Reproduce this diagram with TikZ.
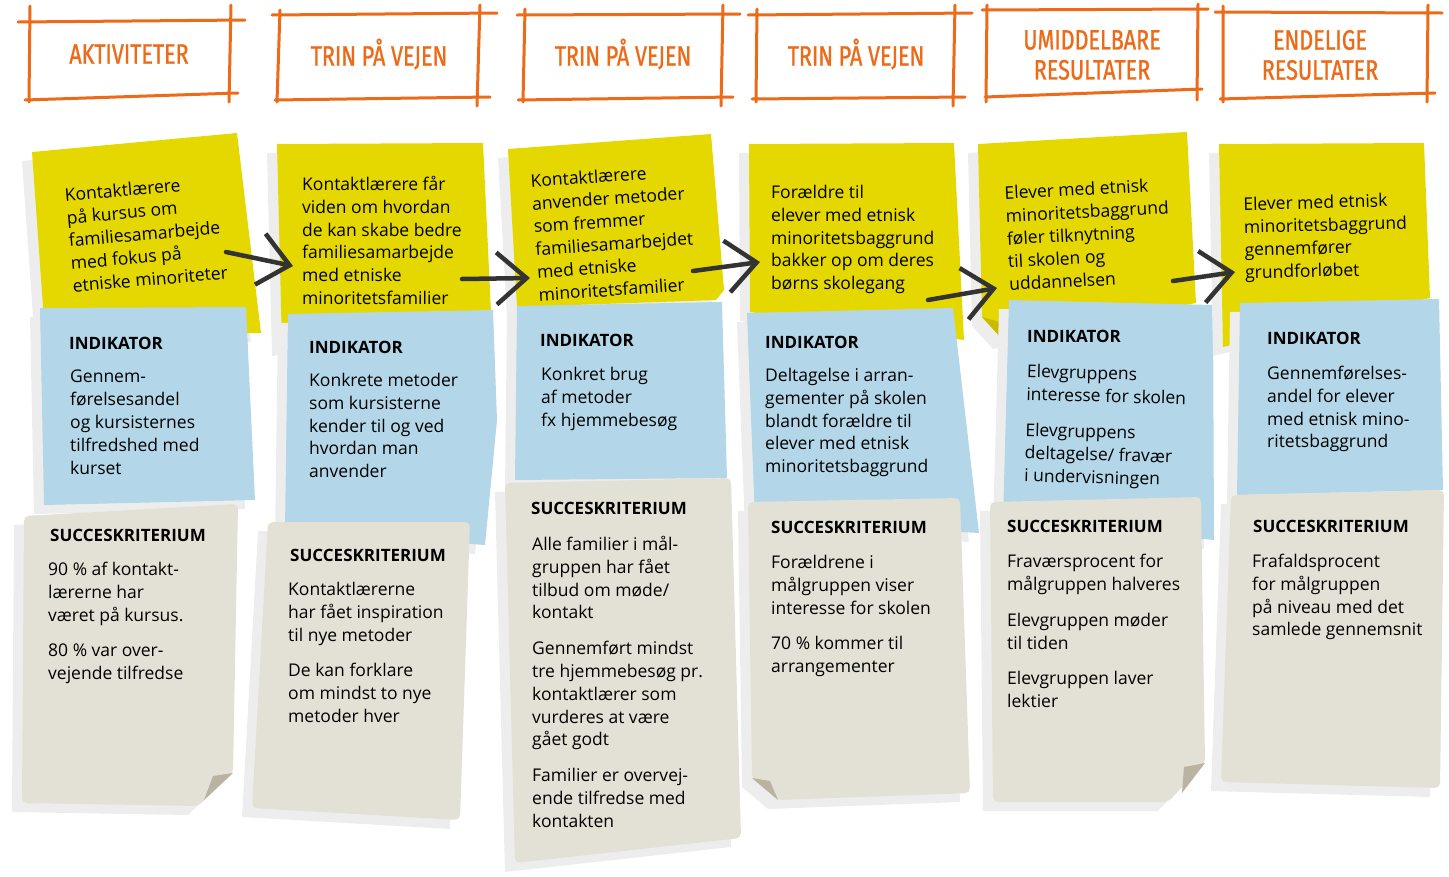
\documentclass[tikz,border=0pt]{standalone}
\usepackage{fontspec}
\setmainfont{Open Sans}
\newfontfamily\headfont{Fira Sans}[FakeStretch=0.77,FakeBold=1]
\usetikzlibrary{arrows.meta}

\definecolor{frameorange}{HTML}{EC6A18}
\definecolor{noteyellow}{HTML}{E5D800}
\definecolor{foldyellow}{HTML}{C9BC00}
\definecolor{noteblue}{HTML}{B3D7E8}
\definecolor{notebeige}{HTML}{E3E1D5}
\definecolor{foldbeige}{HTML}{BAB3A2}
\definecolor{noteshade}{HTML}{EDEDED}
\definecolor{arrowgray}{HTML}{333333}

\newcommand{\notefont}{\fontsize{17.5}{22.8}\selectfont}
\newcommand{\labelfont}{\fontsize{17}{20}\selectfont\bfseries}
\newcommand{\headsize}{\fontsize{28}{32}\selectfont}
% sticky note: shadow first, then the paper
\newcommand{\sticky}[2]{\fill[paper shadow] #2; \fill[#1] #2;}

\tikzset{
  frame line/.style={draw=frameorange, line width=3pt, line cap=round},
  head text/.style={font=\headfont\headsize, text=frameorange, align=center, inner sep=0pt},
  note text/.style={anchor=north west, align=left, inner sep=0pt, font=\notefont},
  label text/.style={anchor=west, inner sep=0pt, font=\labelfont},
  paper shadow/.style={fill=noteshade, shift={(-10,9)}},
  yellow paper/.style={fill=noteyellow},
  blue paper/.style={fill=noteblue},
  beige paper/.style={fill=notebeige, rounded corners=5pt},
  flow/.style={draw=arrowgray, line width=4.5pt, line cap=round, -{Straight Barb[length=30pt,width=52pt]}},
}

\begin{document}
\begin{tikzpicture}[x=1pt, y=-1pt]
\useasboundingbox (0,0) rectangle (1449,876);

% headers
\draw[frame line] (18,22) -- (245,20) (25,100) -- (238,93) (30,6) -- (29,102) (231,5) -- (229,102);
\node[head text] (h1) at (129,54) {AKTIVITETER};
\draw[frame line] (272,15) -- (497,13) (275,100) -- (490,97) (280,10) -- (277,102) (480,5) -- (477,106);
\node[head text] (h2) at (379,54) {TRIN PÅ VEJEN};
\draw[frame line] (517,15) -- (740,14) (518,100) -- (733,97) (525,9) -- (523,102) (723,5) -- (721,106);
\node[head text] (h3) at (623,54) {TRIN PÅ VEJEN};
\draw[frame line] (748,15) -- (972,13) (752,99) -- (965,97) (757,9) -- (756,102) (955,5) -- (953,106);
\node[head text] (h4) at (856,54) {TRIN PÅ VEJEN};
\draw[frame line] (982,10) -- (1208,9) (985,97) -- (1202,89) (987,5) -- (986,102) (1198,4) -- (1197,100);
\node[head text] (h5) at (1092,55) {UMIDDELBARE\\[-2pt]RESULTATER};
\draw[frame line] (1215,12) -- (1442,13) (1220,99) -- (1435,93) (1223,6) -- (1223,102) (1428,5) -- (1427,102);
\node[head text] (h6) at (1320,55) {ENDELIGE\\[-2pt]RESULTATER};

% column 1
\sticky{yellow paper}{(32,152) -- (237,133) -- (261,333) -- (45,335) -- cycle}
\node[note text, rotate=5] (y1) at (64,188) {Kontaktlærere\\på kursus om\\familiesamarbejde\\med fokus på\\etniske minoriteter};
\sticky{blue paper}{(40,308) -- (246,307) -- (255,500) -- (44,505) -- cycle}
\node[label text] (i1) at (69,343) {INDIKATOR};
\node[note text] (i1t) at (70,370) {Gennem-\\førelsesandel\\og kursisternes\\tilfredshed med\\kurset};
\sticky{beige paper}{(24,516) -- (238,504) -- (233,773) -- (198,806) -- (22,803) -- cycle}
\fill[foldbeige] (213,776) -- (233,773) -- (204,800) -- cycle;
\node[label text] (s1) at (50,535) {SUCCESKRITERIUM};
\node[note text] (s1t) at (48,562) {90 \% af kontakt-\\lærerne har\\været på kursus.\\[13pt]80 \% var over-\\vejende tilfredse};

% column 2
\sticky{yellow paper}{(277,144) -- (483,143) -- (491,312) -- (282,347) -- cycle}
\node[note text] (y2) at (302,176) {Kontaktlærere får\\viden om hvordan\\de kan skabe bedre\\familiesamarbejde\\med etniske\\minoritetsfamilier};
\sticky{blue paper}{(288,314) -- (493,310) -- (497,420) -- (485,545) -- (285,530) -- cycle}
\node[label text] (i2) at (309,347) {INDIKATOR};
\node[note text] (i2t) at (309,373) {Konkrete metoder\\som kursisterne\\kender til og ved\\hvordan man\\anvender};
\sticky{beige paper}{(268,522) -- (470,522) -- (460,820) -- (252,808) -- cycle}
\node[label text] (s2) at (290,555) {SUCCESKRITERIUM};
\node[note text] (s2t) at (288,582) {Kontaktlærerne\\har fået inspiration\\til nye metoder\\[13pt]De kan forklare\\om mindst to nye\\metoder hver};

% column 3
\sticky{yellow paper}{(508,149) -- (711,134) -- (724,290) -- (716,300) -- (517,307) -- cycle}
\node[note text, rotate=4] (y3) at (530,174) {Kontaktlærere\\anvender metoder\\som fremmer\\familiesamarbejdet\\med etniske\\minoritetsfamilier};
\sticky{blue paper}{(517,306) -- (722,302) -- (727,478) -- (515,480) -- cycle}
\node[label text] (i3) at (540,340) {INDIKATOR};
\node[note text] (i3t) at (541,367) {Konkret brug\\af metoder\\fx hjemmebesøg};
\sticky{beige paper}{(505,483) -- (731,478) -- (741,838) -- (515,863) -- cycle}
\node[label text] (s3) at (531,508) {SUCCESKRITERIUM};
\node[note text] (s3t) at (532,536) {Alle familier i mål-\\gruppen har fået\\tilbud om møde/\\kontakt\\[13pt]Gennemført mindst\\tre hjemmebesøg pr.\\kontaktlærer som\\vurderes at være\\gået godt\\[13pt]Familier er overvej-\\ende tilfredse med\\kontakten};

% column 4
\sticky{yellow paper}{(749,144) -- (954,143) -- (964,340) -- (750,312) -- cycle}
\node[note text] (y4) at (771,185) {Forældre til\\elever med etnisk\\minoritetsbaggrund\\bakker op om deres\\børns skolegang};
\sticky{blue paper}{(747,313) -- (953,308) -- (979,533) -- (755,520) -- cycle}
\node[label text] (i4) at (765,342) {INDIKATOR};
\node[note text] (i4t) at (765,368) {Deltagelse i arran-\\gementer på skolen\\blandt forældre til\\elever med etnisk\\minoritetsbaggrund};
\sticky{beige paper}{(748,502) -- (960,498) -- (970,793) -- (778,800) -- (752,778) -- cycle}
\fill[foldbeige] (752,778) -- (770,781) -- (778,800) -- cycle;
\node[label text] (s4) at (771,527) {SUCCESKRITERIUM};
\node[note text] (s4t) at (771,555) {Forældrene i\\målgruppen viser\\interesse for skolen\\[13pt]70 \% kommer til\\arrangementer};

% column 5
\sticky{yellow paper}{(978,144) -- (1187,132) -- (1196,303) -- (1003,340) -- (982,317) -- cycle}
\fill[foldyellow] (982,317) -- (1000,322) -- (1003,340) -- cycle;
\node[note text, rotate=3] (y5) at (1004,186) {Elever med etnisk\\minoritetsbaggrund\\føler tilknytning\\til skolen og\\uddannelsen};
\sticky{blue paper}{(1009,300) -- (1213,305) -- (1214,540) -- (1003,520) -- cycle}
\node[label text] (i5) at (1027,336) {INDIKATOR};
\node[note text, rotate=-1.5] (i5t) at (1027,364) {Elevgruppens\\interesse for skolen\\[13pt]Elevgruppens\\deltagelse/ fravær\\i undervisningen};
\sticky{beige paper}{(990,502) -- (1201,497) -- (1205,763) -- (1168,802) -- (993,802) -- cycle}
\fill[foldbeige] (1184,767) -- (1205,763) -- (1182,793) -- cycle;
\node[label text] (s5) at (1007,526) {SUCCESKRITERIUM};
\node[note text] (s5t) at (1007,554) {Fraværsprocent for\\målgruppen halveres\\[13pt]Elevgruppen møder\\til tiden\\[13pt]Elevgruppen laver\\lektier};

% column 6
\sticky{yellow paper}{(1219,144) -- (1424,143) -- (1430,298) -- (1223,347) -- cycle}
\node[note text, rotate=1.5] (y6) at (1243,197) {Elever med etnisk\\minoritetsbaggrund\\gennemfører\\grundforløbet};
\sticky{blue paper}{(1240,303) -- (1439,299) -- (1443,490) -- (1237,495) -- cycle}
\node[label text] (i6) at (1267,338) {INDIKATOR};
\node[note text] (i6t) at (1267,366) {Gennemførelses-\\andel for elever\\med etnisk mino-\\ritetsbaggrund};
\sticky{beige paper}{(1231,495) -- (1444,490) -- (1440,788) -- (1221,782) -- cycle}
\node[label text] (s6) at (1253,526) {SUCCESKRITERIUM};
\node[note text] (s6t) at (1252,554) {Frafaldsprocent\\for målgruppen\\på niveau med det\\samlede gennemsnit};

% arrows between the steps
\coordinate (y1out) at (226,252);
\coordinate (y2in) at (293,266);
\coordinate (y2out) at (462,279);
\coordinate (y3in) at (530,278);
\coordinate (y3out) at (693,271);
\coordinate (y4in) at (760,262);
\coordinate (y4out) at (928,300);
\coordinate (y5in) at (997,288);
\coordinate (y5out) at (1173,281);
\coordinate (y6in) at (1235,272);
\draw[flow] (y1out) -- (y2in);
\draw[flow] (y2out) -- (y3in);
\draw[flow] (y3out) -- (y4in);
\draw[flow] (y4out) -- (y5in);
\draw[flow] (y5out) -- (y6in);
\end{tikzpicture}
\end{document}
